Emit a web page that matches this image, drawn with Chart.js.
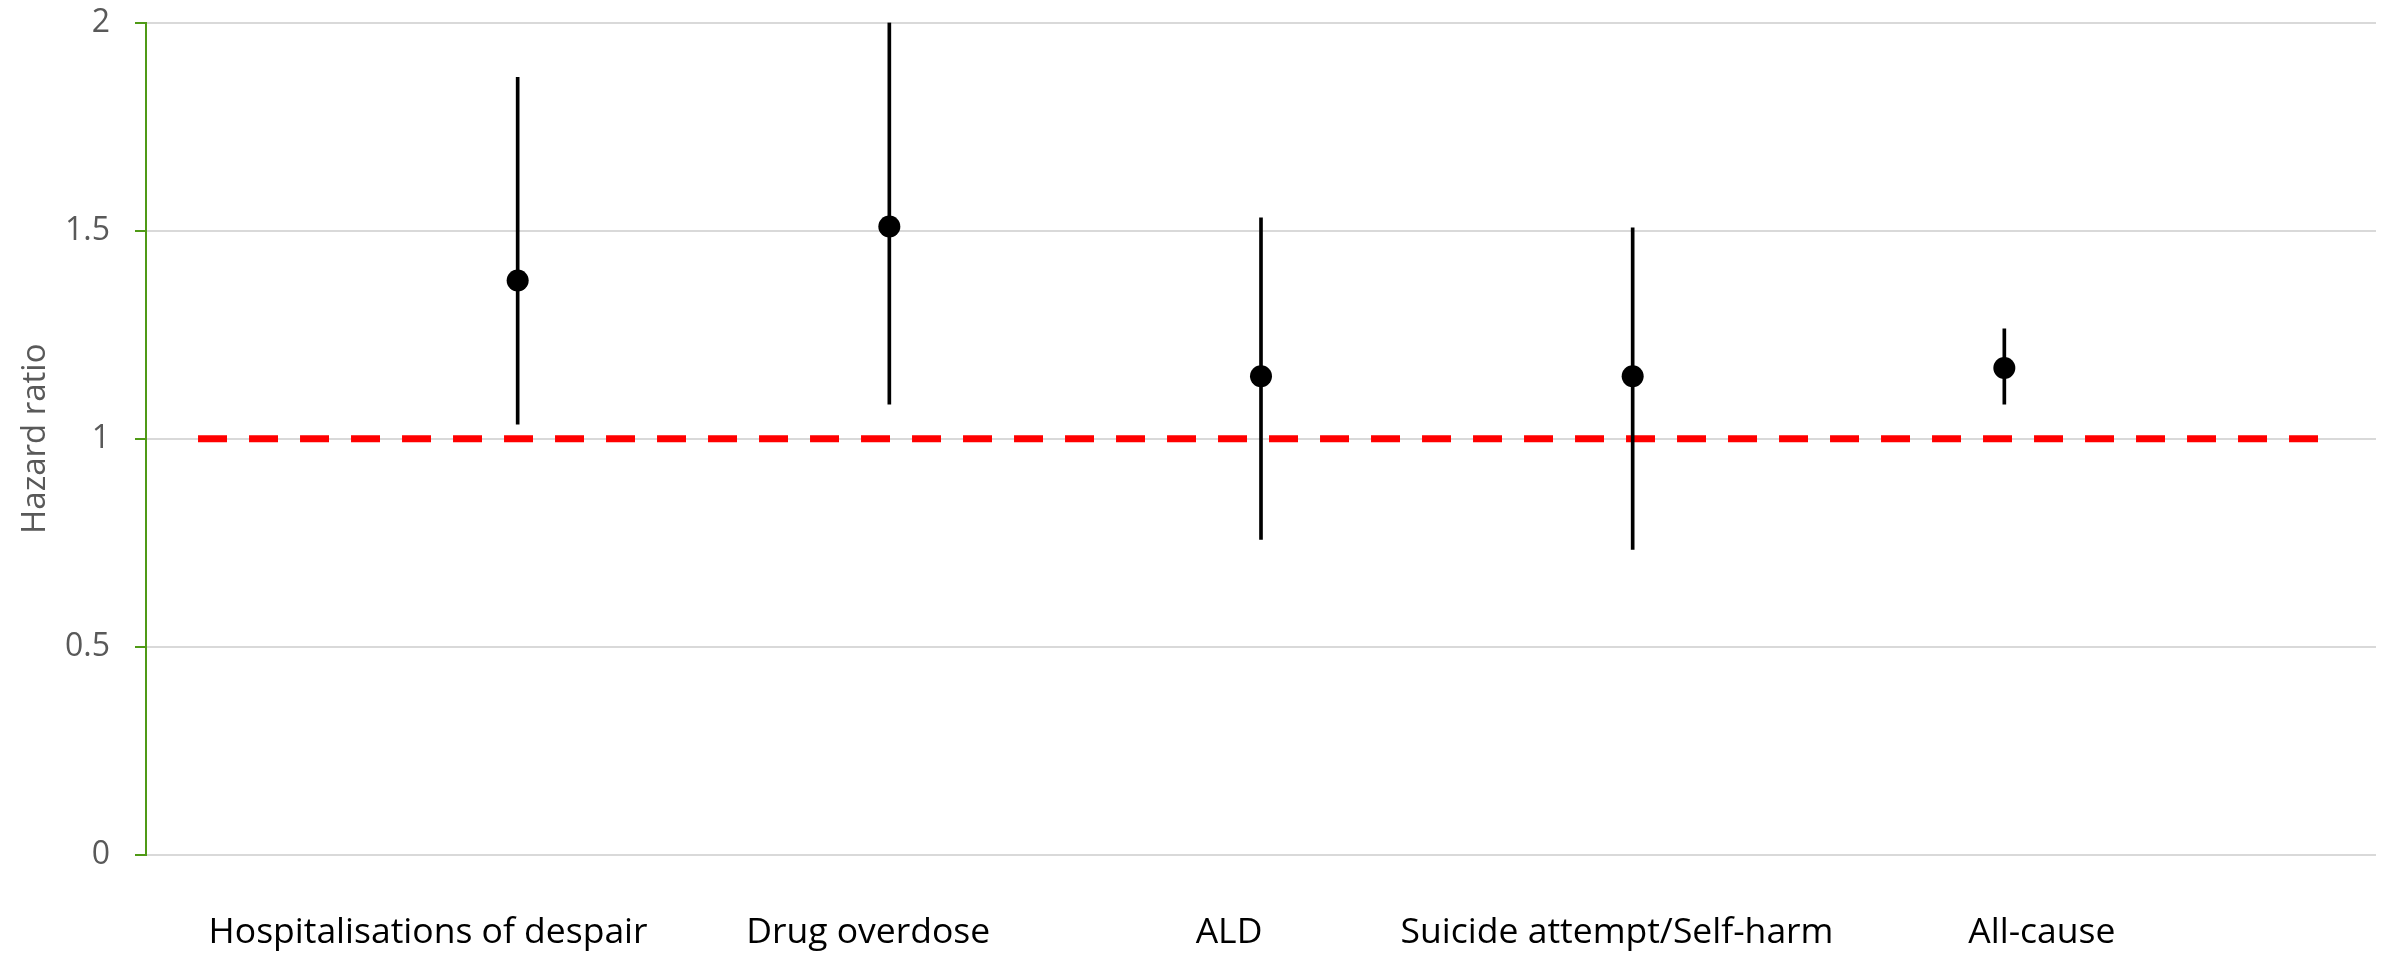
<!DOCTYPE html>
<html>
<head>
<meta charset="utf-8">
<title>Hazard ratios</title>
<script src="https://cdn.jsdelivr.net/npm/chart.js@4.4.1/dist/chart.umd.min.js"></script>
<style>
  html, body { margin: 0; padding: 0; background: #ffffff; }
  canvas { display: block; }
</style>
</head>
<body>
<canvas id="hr" width="2389" height="953"></canvas>
<script>
// Outcomes, hazard ratios and 95% confidence limits
const outcomes = ['Hospitalisations of despair', 'Drug overdose', 'ALD', 'Suicide attempt/Self-harm', 'All-cause'];
const hazardRatio = [1.38, 1.51, 1.15, 1.15, 1.17];
const ciLower = [1.035, 1.083, 0.758, 0.734, 1.083];
const ciUpper = [1.868, 2.0, 1.531, 1.507, 1.264];
const yTicks = [0, 0.5, 1, 1.5, 2];
const nullValue = 1;

// Where each outcome sits on the x axis, and where its caption is centred
const outcomeX = [1, 2, 3, 4, 5];
const captionX = [0.759, 1.943, 2.914, 3.958, 5.101];
const refLineSpan = [0.14, 5.876];

const AXIS_GREEN = '#4f9a16';
const GRID_GREY = '#d9d9d9';
const TEXT_GREY = '#595959';

const points = outcomes.map((_, i) => ({ x: outcomeX[i], y: hazardRatio[i] }));
const intervals = outcomes.map((_, i) => ({ x: outcomeX[i], y: [ciLower[i], ciUpper[i]] }));
const refLine = refLineSpan.map(x => ({ x, y: nullValue }));

new Chart(document.getElementById('hr'), {
  type: 'scatter',
  data: {
    datasets: [
      {
        type: 'scatter',
        label: 'Hazard ratio',
        data: points,
        pointRadius: 11,
        pointHoverRadius: 11,
        pointBackgroundColor: '#000000',
        pointBorderColor: '#000000',
        pointBorderWidth: 0,
        order: 0
      },
      {
        type: 'bar',
        label: '95% CI',
        data: intervals,
        barThickness: 3,
        backgroundColor: '#000000',
        borderWidth: 0,
        order: 1
      },
      {
        type: 'line',
        label: 'No effect',
        data: refLine,
        borderColor: '#ff0000',
        borderWidth: 7,
        borderDash: [29, 22],
        borderCapStyle: 'butt',
        pointRadius: 0,
        fill: false,
        order: 2
      }
    ]
  },
  options: {
    responsive: false,
    animation: false,
    devicePixelRatio: 1,
    layout: { padding: { top: 22.5, right: 13, left: 0, bottom: 0 } },
    plugins: {
      legend: { display: false },
      tooltip: { enabled: false }
    },
    scales: {
      x: {
        type: 'linear',
        min: 0,
        max: 6,
        offset: false,
        grid: { display: false, drawTicks: false },
        border: { display: false },
        afterBuildTicks: scale => { scale.ticks = captionX.map(v => ({ value: v })); },
        afterFit: scale => {
          scale.height = 98;
          scale.paddingLeft = 0;
          scale.paddingRight = 0;
        },
        ticks: {
          autoSkip: false,
          maxRotation: 0,
          padding: 57,
          color: '#000000',
          font: { family: 'Open Sans', size: 35.5 },
          callback: (value, index) => outcomes[index]
        }
      },
      y: {
        type: 'linear',
        min: 0,
        max: 2,
        afterBuildTicks: scale => { scale.ticks = yTicks.map(v => ({ value: v })); },
        afterFit: scale => {
          // keep the plot area pinned to the layout padding
          scale.width = 146;
          scale.paddingTop = 0;
          scale.paddingBottom = 0;
        },
        grid: {
          color: GRID_GREY,
          lineWidth: 2,
          drawTicks: true,
          tickLength: 11,
          tickColor: AXIS_GREEN,
          tickWidth: 2
        },
        border: { display: true, color: AXIS_GREEN, width: 2 },
        ticks: {
          padding: 25,
          color: TEXT_GREY,
          font: { family: 'Open Sans', size: 32 },
          callback: v => String(v)
        },
        title: {
          display: true,
          text: 'Hazard ratio',
          color: TEXT_GREY,
          font: { family: 'Open Sans', size: 33 },
          padding: { top: 16, bottom: 0 }
        }
      }
    }
  }
});
</script>
</body>
</html>
